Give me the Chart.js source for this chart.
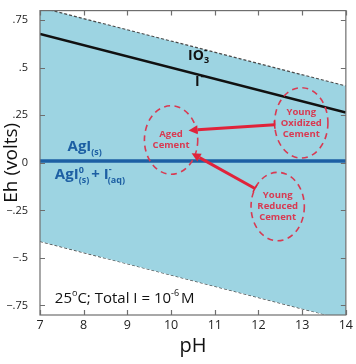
<!DOCTYPE html>
<html>
<head>
<meta charset="utf-8">
<script src="https://cdn.jsdelivr.net/npm/chart.js@4/dist/chart.umd.min.js"></script>
<style>
  html, body { margin: 0; padding: 0; background: #fff; }
  #wrap { width: 356px; height: 364px; position: relative; }
</style>
</head>
<body>
<div id="wrap"><canvas id="c" width="356" height="364"></canvas></div>
<script>
// ---- data ----
const pH = [7, 14];
const upperWater = [0.817, 0.404];     // O2/H2O stability limit
const lowerWater = [-0.413, -0.826];   // H2O/H2 stability limit
const iodateIodide = [0.677, 0.264];   // IO3- / I- boundary
const agiBoundary = [0.01, 0.01];      // AgI(s) / AgI0 + I- boundary
const xTickValues = [7, 8, 9, 10, 11, 12, 13, 14];
const yTickValues = [-0.75, -0.5, -0.25, 0, 0.25, 0.5, 0.75];
const yTickLabels = ['\u2212.75', '\u2212.5', '\u2212.25', '0', '.25', '.5', '.75'];

// annotation anchors (pH, Eh)
const cementLabels = [['Aged', 'Cement'], ['Young', 'Oxidized', 'Cement'], ['Young', 'Reduced', 'Cement']];
const cementCenterPH = [10.0, 12.98, 12.44];
const cementCenterEh = [0.12, 0.21, -0.23];
const cementHalfWidthPH = [0.61, 0.61, 0.61];
const cementHalfHeightEh = [0.18, 0.185, 0.18];
const arrowFromPH = [12.37, 11.92];
const arrowFromEh = [0.20, -0.135];
const arrowToPH = [10.40, 10.47];
const arrowToEh = [0.17, 0.05];

const toPts = (ys) => pH.map((x, i) => ({ x, y: ys[i] }));

const FONT = "'Open Sans', 'Noto Sans', sans-serif";

function richText(ctx, x, y, segs, color) {
  ctx.save();
  ctx.fillStyle = color;
  ctx.textBaseline = 'alphabetic';
  ctx.textAlign = 'left';
  let cx = x;
  for (const s of segs) {
    ctx.font = (s.weight || 'normal') + ' ' + s.size + 'px ' + FONT;
    ctx.fillText(s.t, cx, y + (s.dy || 0));
    cx += ctx.measureText(s.t).width + (s.gap || 0);
  }
  ctx.restore();
}

const framePlugin = {
  id: 'frame',
  afterDatasetsDraw(chart) {
    const { ctx, chartArea: a, scales } = chart;
    const xs = scales.x, ys = scales.y;
    ctx.save();
    ctx.strokeStyle = '#6e6e6e';
    ctx.lineWidth = 1.2;
    ctx.strokeRect(a.left, a.top, a.right - a.left, a.bottom - a.top);
    const L = 5;
    ctx.beginPath();
    for (const v of xTickValues) {
      const px = Math.round(xs.getPixelForValue(v)) + 0.5;
      ctx.moveTo(px, a.bottom); ctx.lineTo(px, a.bottom - L);
      ctx.moveTo(px, a.top); ctx.lineTo(px, a.top + L);
    }
    for (const v of yTickValues) {
      const py = Math.round(ys.getPixelForValue(v)) + 0.5;
      ctx.moveTo(a.left, py); ctx.lineTo(a.left + L, py);
      ctx.moveTo(a.right, py); ctx.lineTo(a.right - L, py);
    }
    ctx.stroke();
    ctx.restore();
  }
};

const annotationPlugin = {
  id: 'annots',
  afterDatasetsDraw(chart) {
    const { ctx, scales } = chart;
    const X = (v) => scales.x.getPixelForValue(v);
    const Y = (v) => scales.y.getPixelForValue(v);
    const red = '#e0233a';
    const dashRed = '#d83a52';

    // region labels
    richText(ctx, X(10.39), Y(0.538), [
      { t: 'IO', size: 14, weight: 'bold' },
      { t: '3', size: 9, dy: 3, weight: 'bold', gap: -5 },
      { t: '-', size: 10, dy: -7, weight: 'bold' }
    ], '#111');
    richText(ctx, X(10.55), Y(0.402), [
      { t: 'I', size: 14, weight: 'bold', gap: 1 },
      { t: '-', size: 10, dy: -7, weight: 'bold' }
    ], '#111');

    const agi = '#1d5fa3';
    richText(ctx, X(7.63), Y(0.064), [
      { t: 'AgI', size: 15, weight: 'bold' },
      { t: '(s)', size: 9, dy: 4, weight: 'bold' }
    ], agi);
    richText(ctx, X(7.34), Y(-0.083), [
      { t: 'AgI', size: 15, weight: 'bold' },
      { t: '0', size: 9, dy: -6, weight: 'bold', gap: -5 },
      { t: '(s)', size: 9, dy: 4, weight: 'bold', gap: 2 },
      { t: '+ I', size: 15, weight: 'bold' },
      { t: '-', size: 9, dy: -7, weight: 'bold', gap: -4 },
      { t: '(aq)', size: 9, dy: 4, weight: 'bold' }
    ], agi);

    // conditions text
    richText(ctx, X(7.34), Y(-0.738), [
      { t: '25', size: 15 },
      { t: 'o', size: 9, dy: -7 },
      { t: 'C; Total I = 10', size: 15 },
      { t: '-6', size: 9, dy: -7, gap: 2 },
      { t: 'M', size: 15 }
    ], '#111');

    // ellipses
    ctx.save();
    for (let i = 0; i < cementLabels.length; i++) {
      const cx = X(cementCenterPH[i]), cy = Y(cementCenterEh[i]);
      const rx = Math.abs(X(cementCenterPH[i] + cementHalfWidthPH[i]) - cx);
      const ry = Math.abs(Y(cementCenterEh[i] + cementHalfHeightEh[i]) - cy);
      ctx.beginPath();
      ctx.setLineDash([6, 4.5]);
      ctx.strokeStyle = dashRed;
      ctx.lineWidth = 1.6;
      ctx.ellipse(cx, cy, rx, ry, 0, 0, Math.PI * 2);
      ctx.stroke();
      ctx.setLineDash([]);
      ctx.fillStyle = dashRed;
      ctx.font = 'bold 9.5px ' + FONT;
      ctx.textAlign = 'center';
      ctx.textBaseline = 'middle';
      const lines = cementLabels[i];
      const lh = 11;
      const y0 = cy - (lines.length - 1) * lh / 2;
      lines.forEach((t, k) => ctx.fillText(t, cx, y0 + k * lh));
    }
    ctx.restore();

    // arrows
    ctx.save();
    for (let i = 0; i < arrowFromPH.length; i++) {
      const x1 = X(arrowFromPH[i]), y1 = Y(arrowFromEh[i]);
      const x2 = X(arrowToPH[i]), y2 = Y(arrowToEh[i]);
      const ang = Math.atan2(y2 - y1, x2 - x1);
      const head = 9, hw = 4.5;
      const bx = x2 - head * Math.cos(ang), by = y2 - head * Math.sin(ang);
      ctx.strokeStyle = red;
      ctx.fillStyle = red;
      ctx.lineWidth = 3;
      ctx.lineCap = 'butt';
      ctx.beginPath();
      ctx.moveTo(x1, y1); ctx.lineTo(bx, by);
      ctx.stroke();
      ctx.lineWidth = 1.5;
      ctx.beginPath();
      const px = -Math.sin(ang), py = Math.cos(ang);
      ctx.moveTo(x1 + px * 4, y1 + py * 4); ctx.lineTo(x1 - px * 4, y1 - py * 4);
      ctx.stroke();
      ctx.beginPath();
      ctx.moveTo(x2, y2);
      ctx.lineTo(bx + px * hw, by + py * hw);
      ctx.lineTo(bx - px * hw, by - py * hw);
      ctx.closePath();
      ctx.fill();
    }
    ctx.restore();
  }
};

new Chart(document.getElementById('c'), {
  type: 'line',
  data: {
    datasets: [
      { data: toPts(upperWater), borderColor: '#4a4a4a', borderWidth: 1.2, borderDash: [3, 2],
        pointRadius: 0, fill: '+1', backgroundColor: '#9dd4e2', order: 3 },
      { data: toPts(lowerWater), borderColor: '#4a4a4a', borderWidth: 1.2, borderDash: [3, 2],
        pointRadius: 0, fill: false, order: 3 },
      { data: toPts(iodateIodide), borderColor: '#111111', borderWidth: 2.5, pointRadius: 0, fill: false, order: 1 },
      { data: toPts(agiBoundary), borderColor: '#1d5fa3', borderWidth: 3.5, pointRadius: 0, fill: false, order: 1 }
    ]
  },
  options: {
    responsive: false,
    animation: false,
    devicePixelRatio: 1,
    layout: { padding: { top: 7, right: 7, left: 0, bottom: 0 } },
    plugins: { legend: { display: false }, tooltip: { enabled: false } },
    scales: {
      x: {
        type: 'linear', min: 7, max: 14,
        afterBuildTicks: (s) => { s.ticks = xTickValues.map(v => ({ value: v })); },
        afterFit: (s) => { s.height = 49; },
        grid: { display: false, drawTicks: false, tickLength: 0 },
        border: { display: false },
        ticks: { color: '#222', font: { family: FONT, size: 12.5 }, padding: 3, maxRotation: 0 },
        title: { display: true, text: 'pH', color: '#111', font: { family: FONT, size: 20 }, padding: { top: 0, bottom: 6 } }
      },
      y: {
        type: 'linear', min: -0.8, max: 0.8,
        afterBuildTicks: (s) => { s.ticks = yTickValues.map(v => ({ value: v })); },
        afterFit: (s) => { s.width = 40; },
        grid: { display: false },
        border: { display: false },
        ticks: { color: '#222', font: { family: FONT, size: 11 }, padding: 4,
          callback: (v) => { const i = yTickValues.indexOf(v); return i >= 0 ? yTickLabels[i] : ''; } },
        title: { display: true, text: 'Eh (volts)', color: '#111', font: { family: FONT, size: 19 }, padding: { top: 0, bottom: 0 } }
      }
    }
  },
  plugins: [framePlugin, annotationPlugin]
});
</script>
</body>
</html>
